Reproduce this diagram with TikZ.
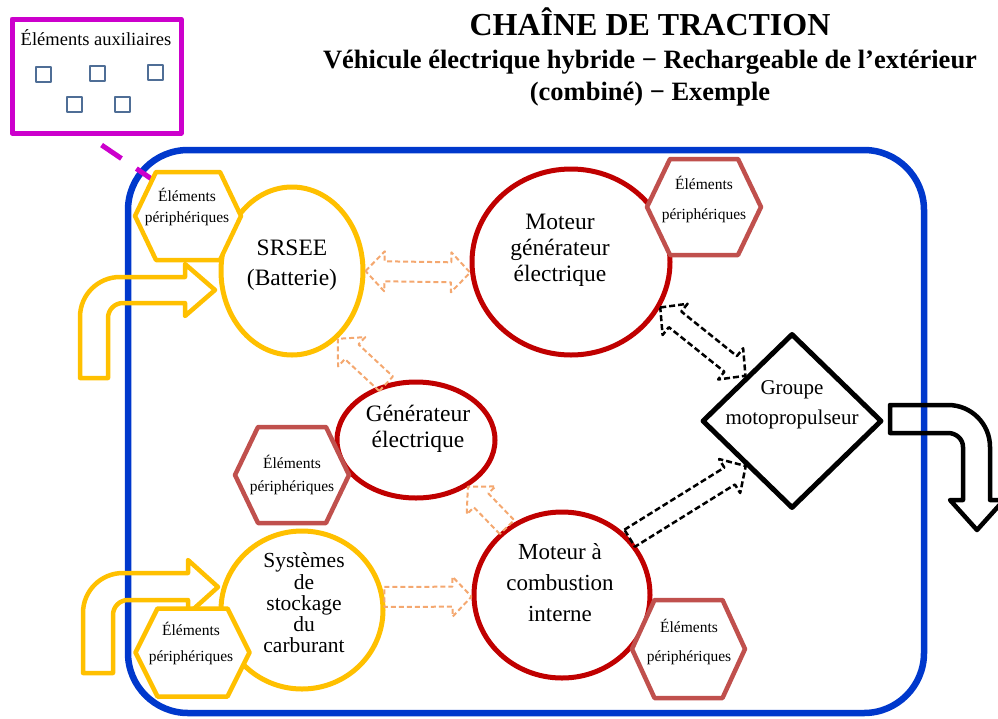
\documentclass[tikz,border=0pt]{standalone}
\usepackage{fontspec}
\setmainfont{Liberation Serif}
\usetikzlibrary{shapes.geometric,calc}
\definecolor{jaune}{RGB}{255,192,0}
\definecolor{rouge}{RGB}{192,0,0}
\definecolor{rougehex}{RGB}{192,80,77}
\definecolor{bleucadre}{RGB}{0,56,204}
\definecolor{magentaaux}{RGB}{204,0,204}
\definecolor{grisbleu}{RGB}{79,110,150}
\definecolor{orangeclair}{RGB}{244,168,112}
\newcommand{\flecheun}[3]{%
\draw[#1] let \p1=#2, \p2=#3, \n1={atan2(\y2-\y1,\x2-\x1)}, \n2={veclen(\x2-\x1,\y2-\y1)} in
[shift={(\p1)}, rotate=\n1] (0pt,10pt) -- (\n2-19pt,10pt) -- (\n2-19pt,20pt) -- (\n2,0pt) -- (\n2-19pt,-20pt) -- (\n2-19pt,-10pt) -- (0pt,-10pt) -- cycle;}
\newcommand{\flechedeux}[3]{%
\draw[#1] let \p1=#2, \p2=#3, \n1={atan2(\y2-\y1,\x2-\x1)}, \n2={veclen(\x2-\x1,\y2-\y1)} in
[shift={(\p1)}, rotate=\n1] (0pt,0pt) -- (19pt,20pt) -- (19pt,10pt) -- (\n2-19pt,10pt) -- (\n2-19pt,20pt) -- (\n2,0pt) -- (\n2-19pt,-20pt) -- (\n2-19pt,-10pt) -- (19pt,-10pt) -- (19pt,-20pt) -- cycle;}
\begin{document}
\begin{tikzpicture}[x=1pt, y=-1pt, line join=round,
    bulle/.style={ellipse, draw, line width=5, fill=white, inner sep=0},
    texte/.style={align=center, font=\fontsize{23.5}{#1}\selectfont},
    orangepointille/.style={draw=orangeclair, line width=2, dash pattern=on 5pt off 3pt},
    noirpointille/.style={draw=black, line width=2.5, dash pattern=on 6pt off 3pt},
    courbe/.style={line width=4.5}]
\useasboundingbox (0,0) rectangle (998,718);

\draw[bleucadre, line width=6.5, rounded corners=60] (128,150) rectangle (924,713);

\draw[courbe, jaune] (80,378) -- (80,317) to[out=90,in=180] (120,277) -- (185,277) -- (185,264) -- (215,290) -- (185,316) -- (185,303) -- (123,303) to[out=180,in=90] (108,318) -- (108,378) -- cycle;
\draw[courbe, jaune] (83,673) -- (83,613) to[out=90,in=180] (123,573) -- (188,573) -- (188,560) -- (218,587) -- (188,614) -- (188,600) -- (128,600) to[out=180,in=90] (113,615) -- (113,673) -- cycle;
\draw[courbe, black] (890,405) -- (948,405) to[out=0,in=90] (990,447) -- (990,500) -- (1004,500) -- (977,530) -- (950,500) -- (963,500) -- (963,447) to[out=90,in=0] (948,433) -- (890,433) -- cycle;

\node[draw=magentaaux, line width=5, minimum width=169, minimum height=114, inner sep=0] (aux) at (96.5,76) {};
\coordinate (liaison) at (162,186);
\draw[magentaaux, line width=5, dash pattern=on 24pt off 18pt, dash phase=25pt] ([xshift=-9]aux.south) -- (liaison);
\node[font=\fontsize{18.5}{18.5}\selectfont, anchor=base] (auxtitre) at (96,45) {Éléments auxiliaires};
\foreach \x/\y in {43/74,97/73,155/72,74/104,122/104}
{
\draw[grisbleu, line width=2] (\x-7.5,\y-7.5) rectangle (\x+7.5,\y+7.5);
}

\node[bulle, draw=jaune, minimum width=142, minimum height=168] (batt) at (292,271) {};
\node[bulle, draw=rouge, minimum width=198, minimum height=186] (mge) at (571,262) {};
\node[bulle, draw=rouge, minimum width=158, minimum height=116] (gen) at (416,440) {};
\node[bulle, draw=jaune, minimum width=162, minimum height=158] (carb) at (302,610) {};
\node[bulle, draw=rouge, minimum width=176, minimum height=166] (mci) at (562,595) {};
\node[diamond, draw, line width=5, fill=white, minimum width=180, minimum height=175, inner sep=0] (gmp) at (792,421) {};

\foreach \cx/\cy/\rx/\ry/\rt/\col/\tx/\ty/\lg/\nom in {188/216/53/44/32/jaune/187/207/20.5/hexA, 704/207/57/48/34/rougehex/704/199/30/hexB, 292/475/57/48/34/rougehex/292/475/23.5/hexC, 192.5/652.5/57/44/35/jaune/191/643/26/hexD, 688.5/649/56.5/49/34/rougehex/689/641.5/29/hexE}
{
\filldraw[draw=\col, fill=white, line width=4.5] (\cx-\rx,\cy) -- (\cx-\rt,\cy-\ry) -- (\cx+\rt,\cy-\ry) -- (\cx+\rx,\cy) -- (\cx+\rt,\cy+\ry) -- (\cx-\rt,\cy+\ry) -- cycle;
\node[align=center, font=\fontsize{15.5}{\lg}\selectfont] (\nom) at (\tx,\ty) {Éléments\\périphériques};
}

\node[texte=30] (battT) at (292,265) {SRSEE\\(Batterie)};
\node[texte=26] (mgeT) at (560,250) {Moteur\\générateur\\électrique};
\node[texte=26] (genT) at (418,429) {Générateur\\électrique};
\node[align=center, font=\fontsize{21.5}{21.3}\selectfont] (carbT) at (304,603) {Systèmes\\de\\stockage\\du\\carburant};
\node[align=center, font=\fontsize{23}{31}\selectfont] (mciT) at (560,583) {Moteur à\\combustion\\interne};
\node[align=center, font=\fontsize{21}{30}\selectfont] (gmpT) at (792,405) {Groupe\\motopropulseur};

\flechedeux{orangepointille}{(batt.east)}{(mge.186)}
\flecheun{orangepointille}{(gen.118)}{(batt.304)}
\flecheun{orangepointille}{(mci.129)}{(gen.318)}
\flecheun{orangepointille}{(carb.9)}{(mci.181)}
\flechedeux{noirpointille}{(mge.333)}{(gmp.north west)}
\flecheun{noirpointille}{(mci.40)}{(gmp.south west)}

\node[font=\bfseries\fontsize{32}{32}\selectfont, anchor=base] (titre) at (650,35) {CHAÎNE DE TRACTION};
\node[font=\bfseries\fontsize{26.5}{26.5}\selectfont, anchor=base] (soustitre) at (650,68) {Véhicule électrique hybride − Rechargeable de l’extérieur};
\node[font=\bfseries\fontsize{26.5}{26.5}\selectfont, anchor=base] (exemple) at (650,100) {(combiné) − Exemple};
\end{tikzpicture}
\end{document}
